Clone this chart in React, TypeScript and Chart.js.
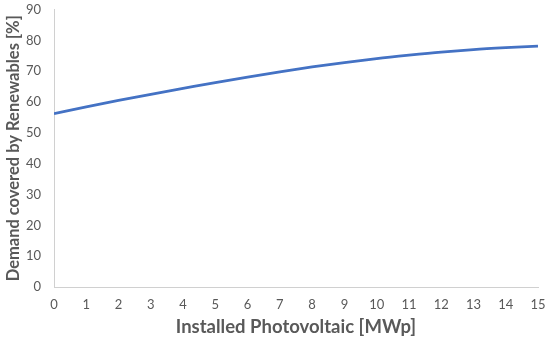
import React, { useEffect, useRef } from "react";
import { Chart, registerables } from "chart.js";

Chart.register(...registerables);

const xValues = [0, 1, 2, 3, 4, 5, 6, 7, 8, 9, 10, 11, 12, 13, 14, 15];
const demandCovered = [56.2, 58.4, 60.5, 62.5, 64.4, 66.3, 68.1, 69.8, 71.4, 72.8, 74.1, 75.2, 76.2, 77.0, 77.6, 78.1];
const xTitle = "Installed Photovoltaic [MWp]";
const yTitle = "Demand covered by Renewables [%]";

export default function App() {
  const ref = useRef<HTMLCanvasElement>(null);
  useEffect(() => {
    document.body.style.margin = "0";
    const canvas = ref.current!;
    const chart = new Chart(canvas, {
      type: "line",
      data: {
        datasets: [
          {
            data: xValues.map((x, i) => ({ x, y: demandCovered[i] })),
            borderColor: "#4472C4",
            borderWidth: 2.75,
            pointRadius: 0,
            tension: 0.4,
            cubicInterpolationMode: "monotone",
            fill: false,
          },
        ],
      },
      options: {
        responsive: false,
        animation: false,
        layout: { padding: 0 },
        plugins: { legend: { display: false }, tooltip: { enabled: false } },
        scales: {
          x: {
            type: "linear",
            min: 0,
            max: 15,
            ticks: { stepSize: 1, color: "#595959", font: { family: "Lato", size: 13 }, padding: 10, maxRotation: 0 },
            grid: { display: false, drawTicks: false },
            border: { display: true, color: "#d0d0d0", width: 1 },
            title: { display: true, text: xTitle, color: "#595959", font: { family: "Lato", size: 18.5, weight: "bold" }, padding: { top: 4, bottom: 6 } },
            afterFit: (s: any) => { s.height = 57; s.paddingLeft = 0; s.paddingRight = 12; },
          },
          y: {
            min: 0,
            max: 90,
            ticks: { stepSize: 10, color: "#595959", font: { family: "Lato", size: 13 }, padding: 13 },
            grid: { display: false, drawTicks: false },
            border: { display: true, color: "#d0d0d0", width: 1 },
            title: { display: true, text: yTitle, color: "#595959", font: { family: "Lato", size: 16.5, weight: "bold" }, padding: { top: 4, bottom: 0 } },
            afterFit: (s: any) => { s.width = 54; s.paddingTop = 9.5; s.paddingBottom = 0; },
          },
        },
      },
    });
    return () => chart.destroy();
  }, []);
  return <canvas ref={ref} width={550} height={344} style={{ display: "block" }} />;
}
